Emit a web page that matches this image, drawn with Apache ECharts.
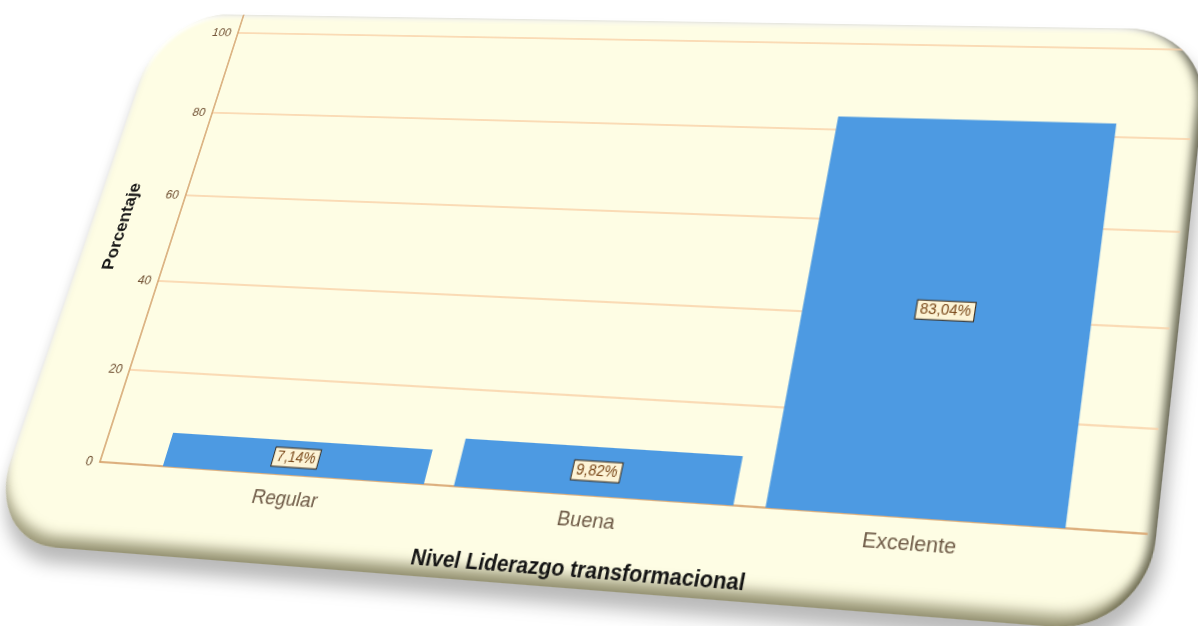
<!DOCTYPE html>
<html><head><meta charset="utf-8">
<script src="https://cdn.jsdelivr.net/npm/echarts@6/dist/echarts.min.js"></script>
<style>
html,body{margin:0;padding:0;background:#ffffff;width:1198px;height:626px;overflow:hidden;}
#card{position:absolute;left:0;top:0;transform-origin:0 0;background:#fefde4;border-radius:78px;overflow:hidden;
box-shadow: inset 0 -16px 12px -6px rgba(105,100,65,0.65), inset -9px 0 9px -4px rgba(50,50,35,0.75), inset 2px 3px 4px rgba(255,255,255,0.9), 5px 14px 16px rgba(0,0,0,0.28);}
#chart{position:absolute;left:0;top:0;}
</style></head>
<body>
<div id="card"><div id="chart"></div></div>
<script>
// ---- data ----
const categories = ['Regular', 'Buena', 'Excelente'];
const percentages = [7.14, 9.82, 83.04];
const xTitle = 'Nivel Liderazgo transformacional';
const yTitle = 'Porcentaje';

// ---- layout (perspective of the photographed card) ----
const PW = 1000, PH = 450;
const plotScreen = [[238,33],[1200,50],[1147,534],[100,462]];   // TL TR BR BL
const cardScreen = [[164,14],[1203,29],[1154,630],[-20,546]];

function homography(src, dst){
  const A=[], B=[];
  for(let i=0;i<4;i++){
    const [x,y]=src[i], [X,Y]=dst[i];
    A.push([x,y,1,0,0,0,-x*X,-y*X]); B.push(X);
    A.push([0,0,0,x,y,1,-x*Y,-y*Y]); B.push(Y);
  }
  const n=8;
  for(let c=0;c<n;c++){
    let p=c; for(let r=c+1;r<n;r++) if(Math.abs(A[r][c])>Math.abs(A[p][c])) p=r;
    [A[c],A[p]]=[A[p],A[c]]; [B[c],B[p]]=[B[p],B[c]];
    for(let r=0;r<n;r++){ if(r===c) continue; const f=A[r][c]/A[c][c]; for(let k=c;k<n;k++) A[r][k]-=f*A[c][k]; B[r]-=f*B[c]; }
  }
  const h=B.map((b,i)=>b/A[i][i]);
  return [[h[0],h[1],h[2]],[h[3],h[4],h[5]],[h[6],h[7],1]];
}
function inv3(m){
  const [a,b,c]=m[0],[d,e,f]=m[1],[g,h,i]=m[2];
  const A=e*i-f*h, B=-(d*i-f*g), C=d*h-e*g;
  const det=a*A+b*B+c*C;
  return [[A/det, -(b*i-c*h)/det, (b*f-c*e)/det],
          [B/det, (a*i-c*g)/det, -(a*f-c*d)/det],
          [C/det, -(a*h-b*g)/det, (a*e-b*d)/det]];
}
function apply(m,x,y){const w=m[2][0]*x+m[2][1]*y+m[2][2];return [(m[0][0]*x+m[0][1]*y+m[0][2])/w,(m[1][0]*x+m[1][1]*y+m[1][2])/w];}

const H = homography([[0,0],[PW,0],[PW,PH],[0,PH]], plotScreen);
const Hi = inv3(H);
const cp = cardScreen.map(p=>apply(Hi,p[0],p[1]));
const cl=(cp[0][0]+cp[3][0])/2, cr=(cp[1][0]+cp[2][0])/2, ct=(cp[0][1]+cp[1][1])/2, cb=(cp[2][1]+cp[3][1])/2;
const CW=Math.round(cr-cl), CH=Math.round(cb-ct);
const m=[[H[0][0],H[0][1],H[0][0]*cl+H[0][1]*ct+H[0][2]],
         [H[1][0],H[1][1],H[1][0]*cl+H[1][1]*ct+H[1][2]],
         [H[2][0],H[2][1],H[2][0]*cl+H[2][1]*ct+H[2][2]]];
const card=document.getElementById('card');
card.style.width=CW+'px'; card.style.height=CH+'px';
card.style.transform='matrix3d('+[m[0][0],m[1][0],0,m[2][0], m[0][1],m[1][1],0,m[2][1], 0,0,1,0, m[0][2],m[1][2],0,m[2][2]].join(',')+')';
const chartEl=document.getElementById('chart');
chartEl.style.width=CW+'px'; chartEl.style.height=CH+'px';

const gx=-cl, gy=-ct;
const FF='"Liberation Sans", Arial, sans-serif';
const axisColor='#d4a26c';

const chart=echarts.init(chartEl,null,{renderer:'canvas'});
chart.setOption({
  animation:false,
  textStyle:{fontFamily:FF},
  grid:[
    {left:gx, top:gy, width:PW, height:PH},
    {left:gx, top:gy-22, width:PW, height:PH+22},
    {left:gx+PW*0.052, top:gy, width:PW*0.893, height:PH}
  ],
  xAxis:[
    {gridIndex:0,type:'category',data:categories,axisLine:{show:true,lineStyle:{color:axisColor,width:1.6}},axisTick:{show:false},axisLabel:{show:false},splitLine:{show:false}},
    {gridIndex:1,type:'category',data:categories,show:false},
    {gridIndex:2,type:'category',data:categories,axisLine:{show:false},axisTick:{show:false},
     axisLabel:{color:'#6e5a46',fontSize:19,margin:13,fontFamily:FF},
     name:xTitle,nameLocation:'middle',nameGap:56,
     nameTextStyle:{color:'#141414',fontSize:20,fontWeight:'bold',fontFamily:FF}}
  ],
  yAxis:[
    {gridIndex:0,type:'value',min:0,max:100,interval:20,axisLine:{show:false},axisTick:{show:false},
     axisLabel:{color:'#6e4e30',fontSize:13,margin:8,fontFamily:FF},
     splitLine:{lineStyle:{color:'#f8cfa6',width:1.6}},
     name:yTitle,nameLocation:'middle',nameGap:50,
     nameTextStyle:{color:'#141414',fontSize:18,fontWeight:'bold',fontFamily:FF,padding:[0,0,0,20]}},
    {gridIndex:1,type:'value',min:0,max:100,axisLine:{show:true,onZero:false,lineStyle:{color:axisColor,width:1.6}},axisTick:{show:false},axisLabel:{show:false},splitLine:{show:false}},
    {gridIndex:2,type:'value',min:0,max:100,show:false}
  ],
  series:[{
    type:'bar',xAxisIndex:2,yAxisIndex:2,data:percentages,barCategoryGap:'10%',
    itemStyle:{color:'#4d9ae2'},
    label:{show:true,position:'inside',fontSize:14,color:'#7b4a1c',fontFamily:FF,
      backgroundColor:'#fdf4d6',borderColor:'#3a2a18',borderWidth:1,padding:[2,3,1,3],
      formatter:p=>p.value.toFixed(2).replace('.',',')+'%'}
  }]
});
</script>
</body></html>
